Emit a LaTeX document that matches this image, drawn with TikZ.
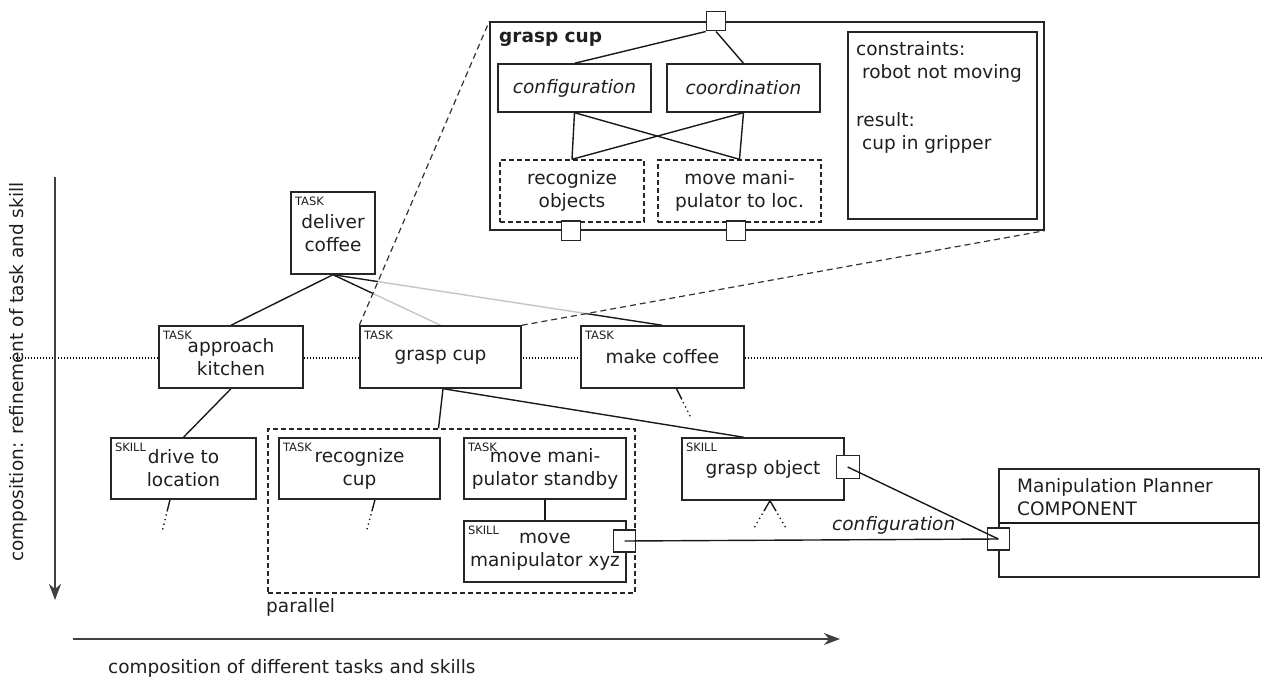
\documentclass[tikz,border=0pt]{standalone}
\usepackage{fontspec}
\setmainfont{DejaVu Sans}
\usetikzlibrary{arrows.meta,calc}
\pgfdeclarelayer{bg}
\pgfdeclarelayer{veil}
\pgfsetlayers{bg,veil,main}
\begin{document}
\begin{tikzpicture}[x=1pt,y=-1pt,
  every node/.style={font=\fontsize{18.5}{23}\selectfont, text=black!88},
  box/.style={draw=black!85, line width=1.4pt, fill=white, inner sep=0pt, align=center},
  dbox/.style={box, dash pattern=on 5pt off 3pt},
  tag/.style={anchor=north west, inner sep=0pt, font=\fontsize{11.5}{11.5}\selectfont, xshift=4.5pt, yshift=-5pt},
  port/.style={draw=black!85, line width=1.4pt, fill=white, minimum size=#1, inner sep=0pt},
  link/.style={line width=1.4pt, draw=black!90},
  trail/.style={link, dash pattern=on 12pt off 3pt on 1.3pt off 3.5pt on 1.3pt off 3.5pt on 1.3pt off 3.5pt on 1.3pt off 40pt},
  lens/.style={line width=1.2pt, draw=black!80, dash pattern=on 6pt off 4pt},
  axis/.style={line width=1.8pt, draw=black!75, -{Stealth[length=16pt,width=12pt,inset=5pt]}},
]
\useasboundingbox (0,0) rectangle (1262,682);

% ---- task / skill hierarchy ----
\node[box, minimum width=84pt, minimum height=82pt] (deliver) at (333,233) {deliver\\coffee};
\node[tag] at (deliver.north west) {TASK};

\node[box, minimum width=144pt, minimum height=62pt] (approach) at (231,357) {approach\\kitchen};
\node[tag] at (approach.north west) {TASK};
\node[box, minimum width=161pt, minimum height=62pt] (grasp) at (440.5,357) {grasp cup};
\node[tag] at (grasp.north west) {TASK};
\node[box, minimum width=163pt, minimum height=62pt] (make) at (662.5,357) {make coffee};
\node[tag] at (make.north west) {TASK};

\node[box, minimum width=145pt, minimum height=61pt] (drive) at (183.5,468.5) {drive to\\location};
\node[tag] at (drive.north west) {SKILL};

\node[dbox, fill=none, minimum width=367pt, minimum height=164pt] (par) at (451.5,511) {};
\node[anchor=west, inner sep=0pt] (parlabel) at (266,607) {parallel};

\node[box, minimum width=161pt, minimum height=61pt] (reccup) at (359.5,468.5) {recognize\\cup};
\node[tag] at (reccup.north west) {TASK};
\node[box, minimum width=162pt, minimum height=61pt] (standby) at (545,468.5) {move mani-\\pulator standby};
\node[tag] at (standby.north west) {TASK};
\node[box, minimum width=162pt, minimum height=61pt] (xyz) at (545,551.5) {move\\manipulator xyz};
\node[tag] at (xyz.north west) {SKILL};

\node[box, minimum width=162pt, minimum height=62pt] (gobj) at (763,469) {grasp object};
\node[tag] at (gobj.north west) {SKILL};

% ---- component ----
\node[box, minimum width=260pt, minimum height=108pt] (comp) at (1129,523) {};
\draw[link] (comp.west) -- (comp.east);
\node[anchor=west, align=left, inner sep=0pt] (comptext) at (1017,497) {Manipulation Planner\\COMPONENT};

% ---- ports ----
\node[port=22pt] (pxyz) at ([xshift=-2pt,yshift=10.5pt]xyz.east) {};
\node[port=23pt] (pgobj) at ([xshift=3pt,yshift=2pt]gobj.east) {};
\node[port=22pt] (pcomp) at ([yshift=-16pt]comp.west) {};

% ---- detail view of grasp cup ----
\node[box, minimum width=554pt, minimum height=208pt] (mag) at (767,126) {};
\node[anchor=west, inner sep=0pt, font=\fontsize{18.5}{23}\selectfont\bfseries] (magtitle) at (499,39) {grasp cup};
\node[box, minimum width=153pt, minimum height=48pt] (config) at (574.5,88) {\itshape configuration};
\node[box, minimum width=153pt, minimum height=48pt] (coord) at (743.5,88) {\itshape coordination};
\node[dbox, minimum width=144pt, minimum height=62pt] (recobj) at (572,191) {recognize\\objects};
\node[dbox, minimum width=163pt, minimum height=62pt] (moveloc) at (739.5,191) {move mani-\\pulator to loc.};
\node[box, minimum width=189pt, minimum height=187pt] (cons) at (942.5,125.5) {};
\node[anchor=west, align=left, inner sep=0pt] (constext) at (856,97)
  {constraints:\\\hspace*{0.32em}robot not moving\\[25pt]result:\\\hspace*{0.32em}cup in gripper};
\node[port=19pt] (ptop) at ([xshift=-51pt]mag.north) {};
\node[port=19pt] (pbl) at ([xshift=-196pt]mag.south) {};
\node[port=19pt] (pbr) at ([xshift=-31pt]mag.south) {};

\draw[link] (ptop.south west) -- (config.north);
\draw[link] (ptop.south) -- (coord.north);
\draw[link] (config.south) -- (recobj.north);
\draw[link] (config.south) -- (moveloc.north);
\draw[link] (coord.south) -- (moveloc.north);
\draw[link] (coord.south) -- (recobj.north);

% ---- connectors under the boxes ----
\coordinate (lineL) at (10,358);
\coordinate (lineR) at (1262,358);
\coordinate (driveEnd) at (162,532);
\coordinate (reccupEnd) at (366,533);
\coordinate (makeEnd) at (693,422);
\coordinate (gobjEndL) at (750,535);
\coordinate (gobjEndR) at (790,535);
\begin{pgfonlayer}{bg}
  \draw[line width=1.1pt, dash pattern=on 1.1pt off 1.9pt] (lineL) -- (lineR);
  \draw[link] (deliver.south) -- (approach.north);
  \draw[link] (deliver.south) -- (grasp.north);
  \draw[link] (deliver.south) -- (make.north);
  \draw[link] (approach.south) -- (drive.north);
  \draw[link] ([xshift=2.5pt]grasp.south) -- ([xshift=-13pt]par.north);
  \draw[link] ([xshift=2.5pt]grasp.south) -- ([xshift=-19pt]gobj.north);
  \draw[link] (standby.south) -- (xyz.north);
  \draw[trail] ([xshift=-13.5pt]drive.south) -- (driveEnd);
  \draw[trail] ([xshift=15.5pt]reccup.south) -- (reccupEnd);
  \draw[trail] ([xshift=14pt]make.south) -- (makeEnd);
  \draw[trail] ([xshift=7pt]gobj.south) -- (gobjEndL);
  \draw[trail] ([xshift=7pt]gobj.south) -- (gobjEndR);
\end{pgfonlayer}

% ---- lens from the grasp cup task to its detail view ----
\begin{pgfonlayer}{veil}
  \fill[white, opacity=.75] (grasp.north west) -- (mag.north west) -- (mag.north east)
    -- (mag.south east) -- (grasp.north east) -- cycle;
\end{pgfonlayer}
\draw[lens] (grasp.north west) -- (mag.north west);
\draw[lens] (grasp.north east) -- (mag.south east);

% ---- port connections ----
\draw[link] (pxyz.center) -- node[above=1pt, font=\fontsize{18.5}{23}\selectfont\itshape, pos=0.72] {configuration} (pcomp.center);
\draw[link] (pgobj.center) -- (pcomp.center);

% ---- axes ----
\coordinate (vTop) at (55,177);
\coordinate (vEnd) at (55,600);
\coordinate (hStart) at (73,639);
\coordinate (hEnd) at (840,639);
\draw[axis] (vTop) -- (vEnd);
\draw[axis] (hStart) -- (hEnd);
\node[rotate=90] (vlabel) at (18,372) {composition: refinement of task and skill};
\node[anchor=west, inner sep=0pt] (hlabel) at (108,668) {composition of different tasks and skills};
\end{tikzpicture}
\end{document}
